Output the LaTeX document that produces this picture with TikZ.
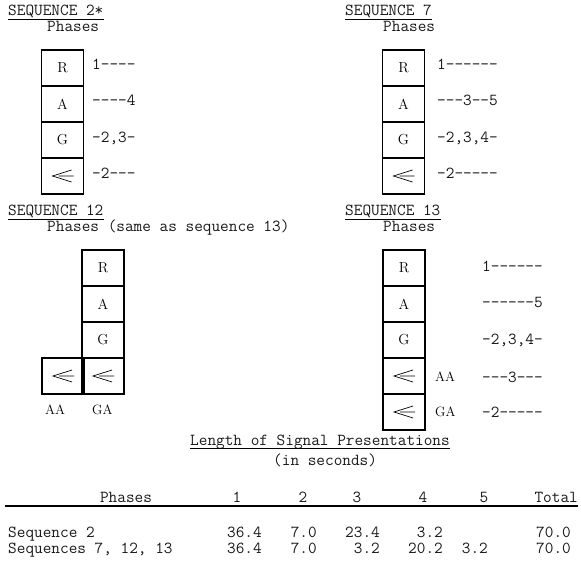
\documentclass[tikz,border=0pt]{standalone}
\usepackage{tikz}
\usetikzlibrary{positioning}

\tikzset{
  mono/.style={font=\fontsize{16.8}{19}\ttfamily, inner sep=0pt, text=black!90},
  cell/.style={draw, line width=1.1pt, minimum width=42pt, minimum height=36pt, inner sep=0pt, font=\fontsize{14.5}{17}\selectfont},
  tag/.style={font=\fontsize{13.5}{16}\selectfont, inner sep=0pt, anchor=base west},
  backsig/.pic={\draw[line width=0.7pt] (-4,0) -- (11,0) (9,-6) -- (-10,0) -- (9,6);}
}

\begin{document}
\begin{tikzpicture}[x=1pt,y=-1pt]
	\useasboundingbox (0,0) rectangle (581,564);

	% sequence 2
	\node (t2) [mono, anchor=base west] at (8,16) {SEQUENCE 2*};
	\node (p2) [mono, anchor=base west] at (47,32) {Phases};
	\node (s2r) [cell] at (62.5,68) {R};
	\node (s2a) [cell] at (62.5,104) {A};
	\node (s2g) [cell] at (62.5,140) {G};
	\node (s2l) [cell] at (62.5,176) {};
	\pic at (s2l) {backsig};
	\node (l2r) [mono, anchor=base west] at (92,70) {1----};
	\node (l2a) [mono, anchor=base west] at (92,106) {----4};
	\node (l2g) [mono, anchor=base west] at (92,143) {-2,3-};
	\node (l2l) [mono, anchor=base west] at (92,179) {-2---};

	% sequence 7
	\node (t7) [mono, anchor=base west] at (345,16) {SEQUENCE 7};
	\node (p7) [mono, anchor=base west] at (383,32) {Phases};
	\node (s7r) [cell] at (403.5,68) {R};
	\node (s7a) [cell] at (403.5,104) {A};
	\node (s7g) [cell] at (403.5,140) {G};
	\node (s7l) [cell] at (403.5,176) {};
	\pic at (s7l) {backsig};
	\node (l7r) [mono, anchor=base west] at (437,70) {1------};
	\node (l7a) [mono, anchor=base west] at (437,106) {---3--5};
	\node (l7g) [mono, anchor=base west] at (437,143) {-2,3,4-};
	\node (l7l) [mono, anchor=base west] at (437,179) {-2-----};

	% sequence 12
	\node (t12) [mono, anchor=base west] at (8,216) {SEQUENCE 12};
	\node (p12) [mono, anchor=base west] at (47,232) {Phases (same as sequence 13)};
	\node (s12r) [cell] at (103,268) {R};
	\node (s12a) [cell] at (103,304) {A};
	\node (s12g) [cell] at (103,340) {G};
	\node (s12ga) [cell] at (103,376) {};
	\node (s12aa) [cell] at (63,376) {};
	\pic at (s12ga) {backsig};
	\pic at (s12aa) {backsig};
	\node (a12) [tag] at (45,414) {AA};
	\node (g12) [tag] at (92,414) {GA};

	% sequence 13
	\node (t13) [mono, anchor=base west] at (345,216) {SEQUENCE 13};
	\node (p13) [mono, anchor=base west] at (383,232) {Phases};
	\node (s13r) [cell] at (404,268) {R};
	\node (s13a) [cell] at (404,304) {A};
	\node (s13g) [cell] at (404,340) {G};
	\node (s13aa) [cell] at (404,376) {};
	\node (s13ga) [cell] at (404,412) {};
	\pic at (s13aa) {backsig};
	\pic at (s13ga) {backsig};
	\node (a13) [tag] at (435,381) {AA};
	\node (g13) [tag] at (435,416) {GA};
	\node (l13r) [mono, anchor=base west] at (482,272) {1------};
	\node (l13a) [mono, anchor=base west] at (482,307) {------5};
	\node (l13g) [mono, anchor=base west] at (482,344) {-2,3,4-};
	\node (l13aa) [mono, anchor=base west] at (482,382) {---3---};
	\node (l13ga) [mono, anchor=base west] at (482,417) {-2-----};

	\foreach \t in {t2,t7,t12,t13}
		\draw [line width=0.8pt] ([yshift=-3.5pt]\t.base west) -- ([yshift=-3.5pt]\t.base east);

	% table
	\node (cap) [mono, anchor=base west] at (190,445) {Length of Signal Presentations};
	\node (unit) [mono, anchor=base west] at (273,465) {(in seconds)};
	\draw [line width=0.8pt] ([yshift=-3.5pt]cap.base west) -- ([yshift=-3.5pt]cap.base east);

	\node (hp) [mono, anchor=base] at (126,502) {Phases};
	\node (h1) [mono, anchor=base] at (237,502) {1};
	\node (h2) [mono, anchor=base] at (303,502) {2};
	\node (h3) [mono, anchor=base] at (357,502) {3};
	\node (h4) [mono, anchor=base] at (423,502) {4};
	\node (h5) [mono, anchor=base] at (484,502) {5};
	\node (ht) [mono, anchor=base east] at (578,502) {Total};
	\draw [line width=1.6pt] (5,506) -- (578,506);

	\node (r1) [mono, anchor=base west] at (8,537) {Sequence 2};
	\node (r1c1) [mono, anchor=base east] at (262,537) {36.4};
	\node (r1c2) [mono, anchor=base east] at (317,537) {7.0};
	\node (r1c3) [mono, anchor=base east] at (380,537) {23.4};
	\node (r1c4) [mono, anchor=base east] at (443,537) {3.2};
	\node (r1t) [mono, anchor=base east] at (571,537) {70.0};

	\node (r2) [mono, anchor=base west] at (8,553) {Sequences 7, 12, 13};
	\node (r2c1) [mono, anchor=base east] at (262,553) {36.4};
	\node (r2c2) [mono, anchor=base east] at (317,553) {7.0};
	\node (r2c3) [mono, anchor=base east] at (380,553) {3.2};
	\node (r2c4) [mono, anchor=base east] at (443,553) {20.2};
	\node (r2c5) [mono, anchor=base east] at (488,553) {3.2};
	\node (r2t) [mono, anchor=base east] at (571,553) {70.0};

\end{tikzpicture}
\end{document}
